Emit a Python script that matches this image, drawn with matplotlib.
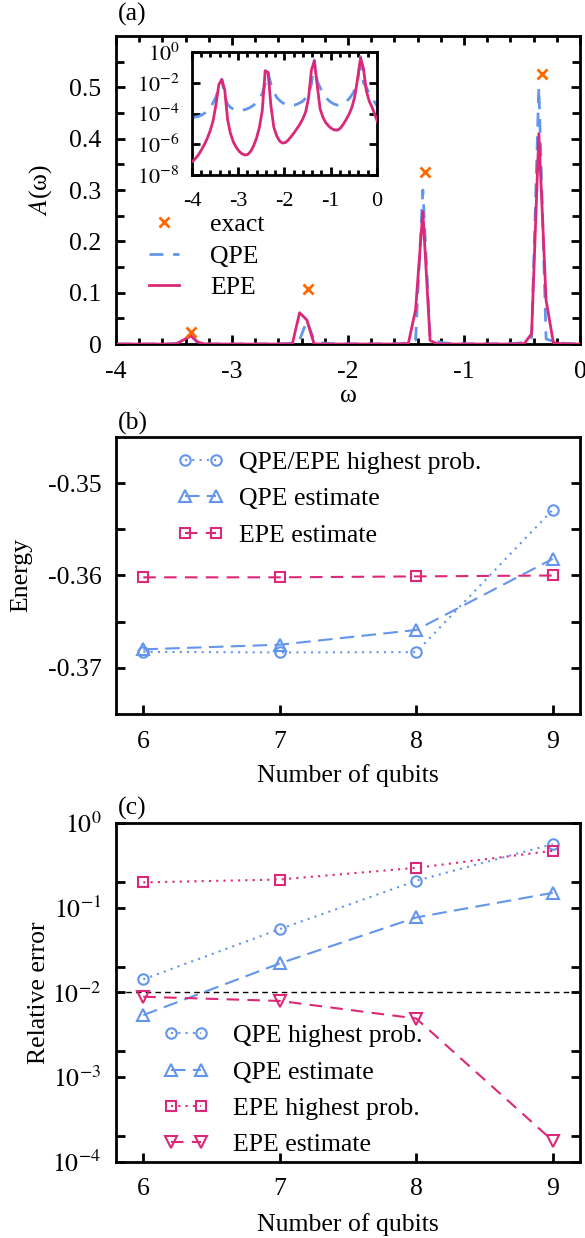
import matplotlib
matplotlib.use("Agg")
import matplotlib.pyplot as plt
from matplotlib.ticker import FixedLocator, NullFormatter, NullLocator

plt.rcParams['font.family'] = ['Liberation Serif', 'DejaVu Serif']
plt.rcParams['mathtext.fontset'] = 'stix'
plt.rcParams['axes.unicode_minus'] = False

BLUE = '#6495ed'
PINK = '#dc2878'
ORANGE = '#ff6a00'
FS = 18.5

# ---- panel (a): spectral function A(omega) ----
omega = [-3.98, -3.9175, -3.855, -3.7925, -3.73, -3.6675, -3.605, -3.5425,
         -3.48, -3.4175, -3.355, -3.2925, -3.23, -3.1675, -3.105, -3.0425,
         -2.98, -2.9175, -2.855, -2.7925, -2.73, -2.6675, -2.605, -2.5425,
         -2.48, -2.4175, -2.355, -2.2925, -2.23, -2.1675, -2.105, -2.0425,
         -1.98, -1.9175, -1.855, -1.7925, -1.73, -1.6675, -1.605, -1.5425,
         -1.48, -1.4175, -1.355, -1.2925, -1.23, -1.1675, -1.105, -1.0425,
         -0.98, -0.9175, -0.855, -0.7925, -0.73, -0.6675, -0.605, -0.5425,
         -0.48, -0.4175, -0.355, -0.2925, -0.23, -0.1675, -0.105, -0.0425,
         0.02]

A_qpe = [5.8e-5, 6.0e-5, 6.6e-5, 7.9e-5, 1.05e-4, 1.5e-4, 2.4e-4, 5.0e-4,
         1.26e-3, 5.0e-3, 0.017, 1.26e-3, 4.0e-4, 2.5e-4, 1.9e-4, 1.66e-4,
         1.6e-4, 1.66e-4, 1.8e-4, 2.1e-4, 2.6e-4, 3.5e-4, 5.0e-4, 8.9e-4,
         2.0e-3, 8.0e-3, 0.045, 8.0e-3, 2.5e-3, 1.1e-3, 7.1e-4, 5.0e-4,
         4.0e-4, 3.5e-4, 3.4e-4, 3.5e-4, 4.0e-4, 5.0e-4, 6.3e-4, 1.0e-3,
         2.0e-3, 8.0e-3, 0.30, 0.0126, 5.0e-3, 2.0e-3, 1.1e-3, 7.1e-4,
         5.0e-4, 4.0e-4, 3.5e-4, 3.8e-4, 4.5e-4, 6.0e-4, 8.9e-4, 1.6e-3,
         3.5e-3, 0.0126, 0.50, 0.010, 5.0e-3, 2.0e-3, 1.0e-3, 5.0e-4,
         2.5e-4]

A_epe = [7.9e-8, 1.26e-7, 2.2e-7, 4.5e-7, 1.0e-6, 2.5e-6, 7.9e-6, 3.5e-5,
         4.0e-4, 0.008, 0.016, 0.0035, 4.0e-5, 5.0e-6, 1.4e-6, 6.3e-7,
         3.5e-7, 2.4e-7, 2.0e-7, 2.2e-7, 3.5e-7, 7.9e-7, 2.5e-6, 1.26e-5,
         1.6e-4, 0.061, 0.047, 3.0e-4, 1.26e-5, 3.5e-6, 1.6e-6, 1.2e-6,
         1.3e-6, 1.9e-6, 3.2e-6, 5.6e-6, 1.05e-5, 2.0e-5, 4.5e-5, 1.26e-4,
         1.0e-3, 0.067, 0.258, 0.007, 2.0e-4, 5.6e-5, 2.5e-5, 1.5e-5,
         1.05e-5, 8.5e-6, 8.3e-6, 1.1e-5, 2.0e-5, 4.0e-5, 8.9e-5, 2.5e-4,
         1.26e-3, 0.02, 0.41, 0.085, 0.003, 6.3e-4, 2.5e-4, 7.9e-5,
         2.5e-5]

exact_omega = [-3.35, -2.345, -1.337, -0.332]
exact_A = [0.023, 0.107, 0.336, 0.526]

# ---- panel (b): energies ----
qubits = [6, 7, 8, 9]
energy_highest = [-0.36827, -0.36834, -0.3683, -0.35288]
energy_qpe_est = [-0.3680, -0.3675, -0.3659, -0.3582]
energy_epe_est = [-0.3602, -0.3602, -0.3601, -0.3600]

# ---- panel (c): relative errors ----
err_qpe_highest = [0.0142, 0.0556, 0.207, 0.56]
err_qpe_est = [0.00538, 0.0219, 0.0764, 0.149]
err_epe_highest = [0.198, 0.214, 0.294, 0.467]
err_epe_est = [0.00885, 0.0079, 0.0049, 0.000177]


def style(ax, top=True, labelsize=FS, xpad=12, ypad=10.5, major=6.5, minor=4):
    for s in ax.spines.values():
        s.set_linewidth(2)
    ax.tick_params(which='both', direction='in', width=2, labelsize=labelsize,
                   top=top, right=True)
    ax.tick_params(axis='x', pad=xpad)
    ax.tick_params(axis='y', pad=ypad)
    ax.tick_params(which='major', length=major)
    ax.tick_params(which='minor', length=minor)


fig = plt.figure(figsize=(5.85, 12.38), dpi=100)

# ======== (a) ========
ax = fig.add_axes([0.1983, 0.7221, 0.7932, 0.2488])
l_qpe, = ax.plot(omega, A_qpe, color=BLUE, lw=2, ls=(0, (5, 3.5)), zorder=2)
l_epe, = ax.plot(omega, A_epe, color=PINK, lw=2, zorder=3)
l_ex, = ax.plot(exact_omega, exact_A, ls='none', marker='x', color=ORANGE,
                ms=6.5, mew=2, zorder=4)
ax.set_xlim(-4, 0)
ax.set_ylim(0, 0.6)
ax.set_xticks([-4, -3, -2, -1, 0])
ax.set_xticklabels(['-4', '-3', '-2', '-1', '0'])
ax.xaxis.set_minor_locator(FixedLocator([-4 + 0.2 * i for i in range(21)]))
ax.set_yticks([0, 0.1, 0.2, 0.3, 0.4, 0.5])
ax.set_yticklabels(['0', '0.1', '0.2', '0.3', '0.4', '0.5'])
ax.yaxis.set_minor_locator(FixedLocator([0.05, 0.15, 0.25, 0.35, 0.45, 0.55]))
style(ax, top=True)
ax.tick_params(axis='y', which='minor', length=6)
ax.set_xlabel('ω', fontsize=FS, va='top')
ax.xaxis.set_label_coords(0.5, -0.133)
ax.set_ylabel(r'$A$(ω)', fontsize=FS, va='center')
ax.yaxis.set_label_coords(-0.162, 0.5)
ax.legend([l_ex, l_qpe, l_epe], ['exact', 'QPE', 'EPE'], loc='upper left',
          bbox_to_anchor=(0.071, 0.424), frameon=False, fontsize=FS,
          handlelength=1.17, handletextpad=1.2, labelspacing=0.33,
          borderaxespad=0, borderpad=0)

# inset
axi = fig.add_axes([0.3282, 0.8586, 0.3162, 0.0994])
axi.plot(omega, A_qpe, color=BLUE, lw=2, ls=(0, (5, 3.5)), zorder=2)
axi.plot(omega, A_epe, color=PINK, lw=2, zorder=3)
axi.set_yscale('log')
axi.set_xlim(-4, 0)
axi.set_ylim(1e-8, 1)
axi.set_xticks([-4, -3, -2, -1, 0])
axi.set_xticklabels(['-4', '-3', '-2', '-1', '0'])
axi.xaxis.set_minor_locator(FixedLocator([-4 + 0.2 * i for i in range(21)]))
axi.yaxis.set_major_locator(FixedLocator([1e-8, 1e-6, 1e-4, 1e-2, 1]))
axi.set_yticklabels([r'$10^{-8}$', r'$10^{-6}$', r'$10^{-4}$', r'$10^{-2}$', r'$10^{0}$'])
axi.yaxis.set_minor_locator(NullLocator())
axi.yaxis.set_minor_formatter(NullFormatter())
style(axi, top=True, labelsize=16, xpad=12, ypad=9, major=6, minor=3.5)

fig.text(118 / 585, 1 - 14 / 1238, '(a)', fontsize=FS, va='center', ha='left')

# ======== (b) ========
ax = fig.add_axes([0.1983, 0.4233, 0.7932, 0.2237])
dot = (0, (1, 2.5))
ax.plot(qubits, energy_highest, color=BLUE, lw=1.5, ls=dot, marker='o',
        mfc='none', ms=7.5, mew=1.5, label='QPE/EPE highest prob.')
ax.plot(qubits, energy_qpe_est, color=BLUE, lw=1.5, ls=(0, (7, 3.5)), marker='^',
        mfc='none', ms=8, mew=1.5, label='QPE estimate')
ax.plot(qubits, energy_epe_est, color=PINK, lw=1.5, ls=(0, (6, 4)), marker='s',
        mfc='none', ms=7, mew=1.5, label='EPE estimate')
ax.set_xlim(5.8, 9.2)
ax.set_ylim(-0.375, -0.345)
ax.set_xticks(qubits)
ax.set_xticklabels(['6', '7', '8', '9'])
ax.set_yticks([-0.37, -0.36, -0.35])
ax.set_yticklabels(['-0.37', '-0.36', '-0.35'])
ax.yaxis.set_minor_locator(FixedLocator([-0.365, -0.355]))
style(ax, top=False)
ax.tick_params(axis='y', which='minor', length=6.5)
ax.set_xlabel('Number of qubits', fontsize=FS, va='top')
ax.xaxis.set_label_coords(0.5, -0.18)
ax.set_ylabel('Energy', fontsize=FS, va='center')
ax.yaxis.set_label_coords(-0.205, 0.5)
ax.legend(loc='upper left', bbox_to_anchor=(0.133, 0.949), frameon=False,
          fontsize=FS, numpoints=2, handlelength=1.8, handletextpad=0.57,
          labelspacing=0.52, borderaxespad=0, borderpad=0)
fig.text(118 / 585, 1 - 423 / 1238, '(b)', fontsize=FS, va='center', ha='left')

# ======== (c) ========
ax = fig.add_axes([0.1983, 0.0616, 0.7932, 0.2738])
ax.plot(qubits, err_qpe_highest, color=BLUE, lw=1.5, ls=dot, marker='o',
        mfc='none', ms=7.5, mew=1.5, label='QPE highest prob.')
ax.plot(qubits, err_qpe_est, color=BLUE, lw=1.5, ls=(0, (7, 3.5)), marker='^',
        mfc='none', ms=8, mew=1.5, label='QPE estimate')
ax.plot(qubits, err_epe_highest, color=PINK, lw=1.5, ls=dot, marker='s',
        mfc='none', ms=7, mew=1.5, label='EPE highest prob.')
ax.plot(qubits, err_epe_est, color=PINK, lw=1.5, ls=(0, (6, 4)), marker='v',
        mfc='none', ms=8, mew=1.5, label='EPE estimate')
ax.axhline(1e-2, color='black', lw=1, ls=(0, (4, 3)), zorder=1)
ax.set_yscale('log')
ax.set_xlim(5.8, 9.2)
ax.set_ylim(1e-4, 1)
ax.set_xticks(qubits)
ax.set_xticklabels(['6', '7', '8', '9'])
ax.yaxis.set_major_locator(FixedLocator([1e-4, 1e-3, 1e-2, 1e-1, 1]))
ax.set_yticklabels([r'$10^{-4}$', r'$10^{-3}$', r'$10^{-2}$', r'$10^{-1}$', r'$10^{0}$'])
ax.yaxis.set_minor_locator(FixedLocator([2e-4, 2e-3, 2e-2, 2e-1]))
ax.yaxis.set_minor_formatter(NullFormatter())
style(ax, top=False)
ax.tick_params(axis='y', which='minor', length=6.5)
ax.set_xlabel('Number of qubits', fontsize=FS, va='top')
ax.xaxis.set_label_coords(0.5, -0.151)
ax.set_ylabel('Relative error', fontsize=FS, va='center')
ax.yaxis.set_label_coords(-0.166, 0.5)
ax.legend(loc='upper left', bbox_to_anchor=(0.101, 0.405), frameon=False,
          fontsize=FS, numpoints=2, handlelength=1.77, handletextpad=0.94,
          labelspacing=0.52, borderaxespad=0, borderpad=0)
fig.text(118 / 585, 1 - 808 / 1238, '(c)', fontsize=FS, va='center', ha='left')

fig.savefig('out.png', dpi=100)
